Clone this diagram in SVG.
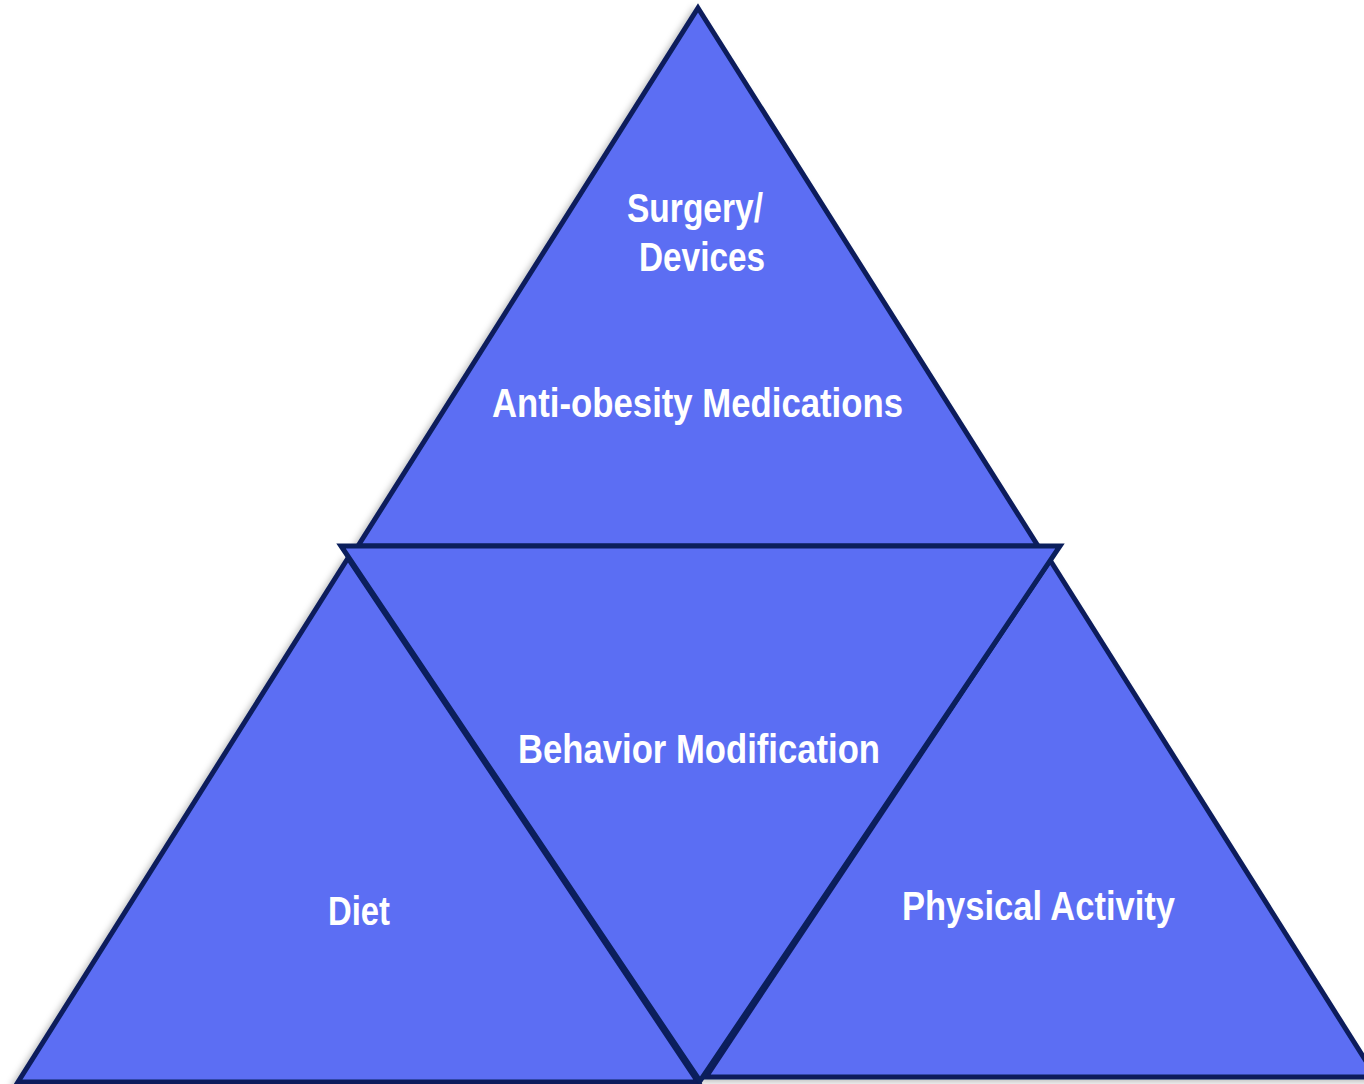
<svg xmlns="http://www.w3.org/2000/svg" width="1364" height="1084" viewBox="0 0 1364 1084">
<defs>
<filter id="sh" x="-10%" y="-10%" width="120%" height="120%">
<feDropShadow dx="-4" dy="3" stdDeviation="3" flood-color="#000" flood-opacity="0.25"/>
</filter>
<style>
.tri{fill:#5B6EF3;stroke:#0B1F5C;stroke-width:5;stroke-linejoin:miter;filter:url(#sh)}
.flat{filter:none}
.lbl{fill:#fff;font-family:"Liberation Sans Narrow","Liberation Sans",Arial,sans-serif;font-weight:bold;font-size:40px}
</style>
</defs>
<rect width="1364" height="1084" fill="#fff"/>
<g id="top">
<polygon class="tri" points="698,8 1038,546 358,546"/>
<text class="lbl" x="627" y="222" textLength="136" lengthAdjust="spacingAndGlyphs">Surgery/</text>
<text class="lbl" x="639" y="271" textLength="126" lengthAdjust="spacingAndGlyphs">Devices</text>
<text class="lbl" x="492" y="417" textLength="411" lengthAdjust="spacingAndGlyphs">Anti-obesity Medications</text>
</g>
<g id="diet">
<polygon class="tri" points="348,558 698,1082 18,1082"/>
<text class="lbl" x="328" y="925" textLength="62" lengthAdjust="spacingAndGlyphs">Diet</text>
</g>
<g id="physical">
<polygon class="tri" points="1050,560 1376,1077 706,1077"/>
<text class="lbl" x="902" y="920" textLength="273" lengthAdjust="spacingAndGlyphs">Physical Activity</text>
</g>
<g id="behavior">
<polygon class="tri flat" points="341,546 1060,546 700,1081"/>
<text class="lbl" x="518" y="763" textLength="362" lengthAdjust="spacingAndGlyphs">Behavior Modification</text>
</g>
<g id="connectors"/>
</svg>
